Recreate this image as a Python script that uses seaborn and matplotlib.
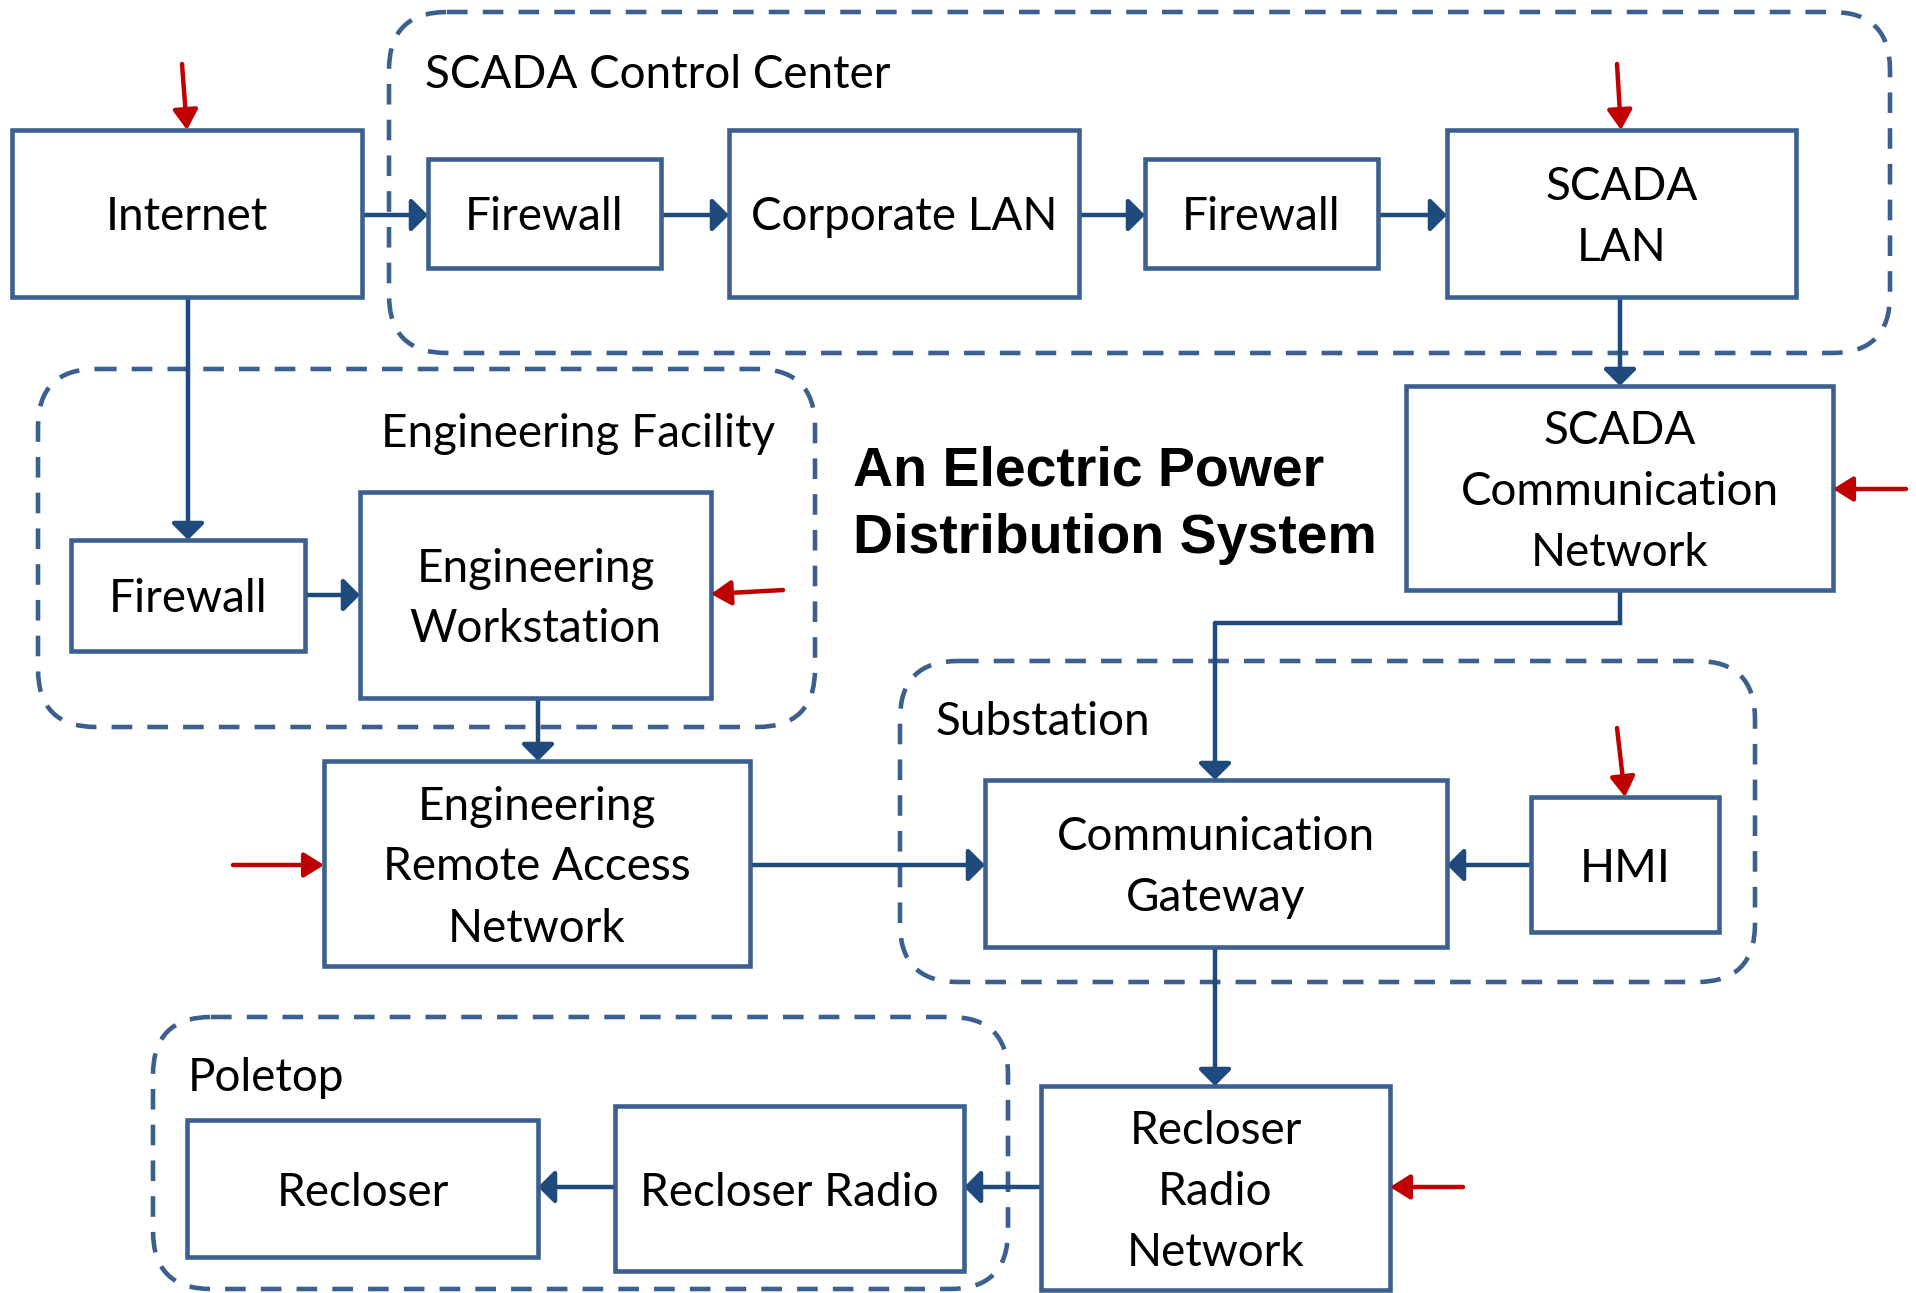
import matplotlib
matplotlib.use('Agg')
import matplotlib.pyplot as plt
import seaborn as sns
from matplotlib.patches import Rectangle, FancyBboxPatch, FancyArrowPatch

sns.set_theme(style='white')
plt.rcParams['font.family'] = ['Lato', 'DejaVu Sans']

# boxes: label lines, left, top, right, bottom (pixels)
box_labels = ['Internet', 'Firewall', 'Corporate LAN', 'Firewall', 'SCADA\nLAN',
              'SCADA\nCommunication\nNetwork', 'Firewall', 'Engineering\nWorkstation',
              'Engineering\nRemote Access\nNetwork', 'Communication\nGateway', 'HMI',
              'Recloser\nRadio\nNetwork', 'Recloser Radio', 'Recloser']
box_x0 = [12, 428, 729, 1145, 1447, 1406, 71, 360, 324, 985, 1531, 1041, 615, 187]
box_y0 = [130, 159, 130, 159, 130, 386, 540, 492, 761, 780, 797, 1086, 1106, 1120]
box_x1 = [362, 661, 1079, 1378, 1796, 1833, 305, 711, 750, 1447, 1719, 1390, 964, 538]
box_y1 = [297, 268, 297, 268, 297, 590, 651, 698, 966, 947, 932, 1290, 1271, 1257]

# dashed groups
group_labels = ['SCADA Control Center', 'Engineering Facility', 'Substation', 'Poletop']
group_x0 = [389, 38, 900, 153]
group_y0 = [12, 369, 661, 1017]
group_x1 = [1890, 815, 1755, 1008]
group_y1 = [353, 727, 982, 1289]
group_lx = [425, 775, 936, 188]
group_ly = [75, 434, 722, 1078]
group_ha = ['left', 'right', 'left', 'left']

# blue connectors (start -> end)
link_x0 = [362, 661, 1079, 1378, 1620, 188, 305, 538, 1215, 750, 1531, 1215, 1041, 615]
link_y0 = [215, 215, 215, 215, 297, 297, 595, 698, 623, 865, 865, 947, 1187, 1187]
link_x1 = [428, 729, 1145, 1447, 1620, 188, 360, 538, 1215, 985, 1447, 1215, 964, 538]
link_y1 = [215, 215, 215, 215, 386, 540, 595, 761, 780, 865, 865, 1086, 1187, 1187]
# elbow from SCADA Communication Network to Communication Gateway
elbow_x = [1620, 1620, 1215]
elbow_y = [590, 623, 623]

# red attack arrows
red_x0 = [182, 1617, 1906, 783, 233, 1617, 1463]
red_y0 = [64, 64, 489, 590, 865, 728, 1187]
red_x1 = [187, 1621, 1833, 711, 324, 1625, 1390]
red_y1 = [130, 130, 489, 594, 865, 797, 1187]

title_lines = ['An Electric Power', 'Distribution System']

edge_c = '#3B5F8E'
link_c = '#1F4A7D'
red_c = '#C00000'

fig = plt.figure(figsize=(19.16, 12.93), dpi=100)
ax = fig.add_axes([0, 0, 1, 1])
ax.set_xlim(0, 1916)
ax.set_ylim(1293, 0)
ax.axis('off')

for x0, y0, x1, y1 in zip(group_x0, group_y0, group_x1, group_y1):
    ax.add_patch(FancyBboxPatch((x0, y0), x1 - x0, y1 - y0,
                                boxstyle='round,pad=0,rounding_size=58',
                                fill=False, edgecolor=edge_c, lw=3.3,
                                linestyle=(0, (4.5, 3.3)), zorder=1))
for lab, lx, ly, ha in zip(group_labels, group_lx, group_ly, group_ha):
    ax.text(lx, ly, lab, ha=ha, va='center', fontsize=33, color='black')

for x0, y0, x1, y1 in zip(link_x0, link_y0, link_x1, link_y1):
    ax.add_patch(FancyArrowPatch((x0, y0), (x1, y1),
                                 arrowstyle='-|>,head_length=10,head_width=10',
                                 color=link_c, lw=3.2, shrinkA=0, shrinkB=0, zorder=2))
ax.plot(elbow_x, elbow_y, color=link_c, lw=3.2, solid_joinstyle='miter', zorder=2)

for x0, y0, x1, y1 in zip(red_x0, red_y0, red_x1, red_y1):
    ax.add_patch(FancyArrowPatch((x0, y0), (x1, y1),
                                 arrowstyle='-|>,head_length=12,head_width=7.5',
                                 color=red_c, lw=3.2, shrinkA=0, shrinkB=0, zorder=4))

for lab, x0, y0, x1, y1 in zip(box_labels, box_x0, box_y0, box_x1, box_y1):
    ax.add_patch(Rectangle((x0, y0), x1 - x0, y1 - y0, facecolor='white',
                           edgecolor=edge_c, lw=3.3, zorder=3))
    lines = lab.split('\n')
    cx, cy = (x0 + x1) / 2, (y0 + y1) / 2 + 4
    for i, line in enumerate(lines):
        ax.text(cx, cy + (i - (len(lines) - 1) / 2) * 61, line, ha='center',
                va='center', fontsize=33, color='black', zorder=5)

for i, line in enumerate(title_lines):
    ax.text(853, 472 + i * 67, line, ha='left', va='center', fontsize=40,
            fontweight='bold', family=['Liberation Sans', 'DejaVu Sans'], color='black')

fig.savefig('out.png', dpi=100, facecolor='white')
